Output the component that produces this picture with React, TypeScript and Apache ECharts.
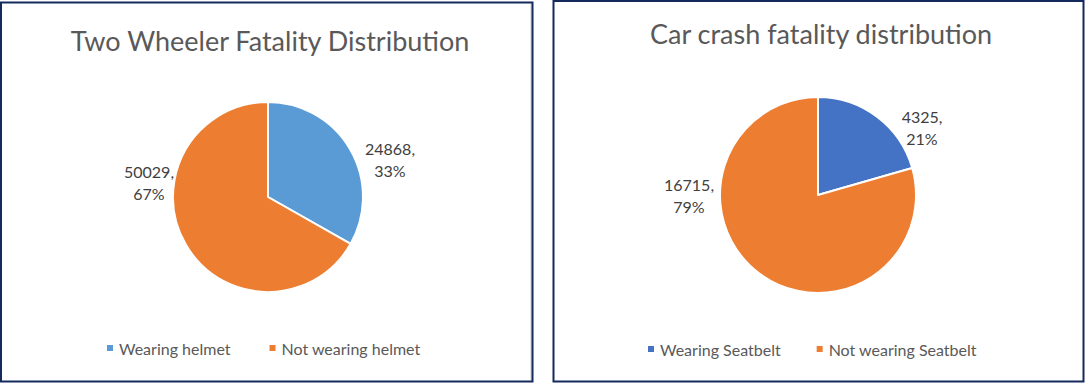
import React, { useEffect, useRef } from "react";
import * as echarts from "echarts";

const twoWheelerTitle = "Two Wheeler Fatality Distribution";
const twoWheelerCategories = ["Wearing helmet", "Not wearing helmet"];
const twoWheelerValues = [24868, 50029];

const carTitle = "Car crash fatality distribution";
const carCategories = ["Wearing Seatbelt", "Not wearing Seatbelt"];
const carValues = [4325, 16715];

const FONT = "Lato, 'Open Sans', sans-serif";

// layout (positions, not data)
const centers: [number, number][] = [
  [268, 197],
  [818, 195],
];
const radii = [95, 98];
// label offsets relative to pie center, per series / slice
const labelOffsets: [number, number][][] = [
  [
    [122, -38],
    [-119, -15],
  ],
  [
    [104, -68],
    [-129, 0],
  ],
];

function pieSeries(idx: number, cats: string[], vals: number[], colors: string[]) {
  return {
    type: "pie",
    center: centers[idx],
    radius: radii[idx],
    startAngle: 90,
    clockwise: true,
    data: cats.map((c, i) => ({ name: c, value: vals[i], itemStyle: { color: colors[i] } })),
    itemStyle: { borderColor: "#ffffff", borderWidth: 2 },
    label: {
      show: true,
      position: "outside",
      fontFamily: FONT,
      fontSize: 16,
      color: "#404040",
      lineHeight: 22,
      align: "center",
      formatter: (p: any) => `${p.value},\n${Math.round(p.percent)}%`,
    },
    labelLine: { show: false },
    emphasis: { disabled: true },
    labelLayout: (p: any) => {
      const off = labelOffsets[idx][p.dataIndex];
      return {
        x: centers[idx][0] + off[0],
        y: centers[idx][1] + off[1],
        align: "center",
        verticalAlign: "middle",
      };
    },
  };
}

export default function App() {
  const ref = useRef<HTMLDivElement>(null);
  useEffect(() => {
    if (!ref.current) return;
    const chart = echarts.init(ref.current, undefined, { renderer: "svg" });
    const titleStyle = { fontFamily: FONT, fontSize: 27, fontWeight: "normal", color: "#595959" };
    const legendText = { fontFamily: FONT, fontSize: 16, color: "#595959" };
    chart.setOption({
      animation: false,
      backgroundColor: "#ffffff",
      title: [
        { text: twoWheelerTitle, left: 265, top: 22, textAlign: "center", textStyle: titleStyle },
        { text: carTitle, left: 816, top: 15, textAlign: "center", textStyle: titleStyle },
      ],
      legend: [
        {
          data: twoWheelerCategories,
          left: 100,
          top: 335,
          width: 420,
          icon: "rect",
          itemWidth: 8,
          itemHeight: 8,
          itemGap: 37,
          selectedMode: false,
          textStyle: legendText,
        },
        {
          data: carCategories,
          left: 641,
          top: 336,
          width: 420,
          icon: "rect",
          itemWidth: 8,
          itemHeight: 8,
          itemGap: 34,
          selectedMode: false,
          textStyle: legendText,
        },
      ],
      graphic: [
        {
          type: "line",
          shape: { x1: 531, y1: 4, x2: 531, y2: 380 },
          style: { stroke: "#c8ccd4", lineWidth: 1 },
          silent: true,
        },
        {
          type: "rect",
          shape: { x: 1, y: 2.5, width: 531.5, height: 379 },
          style: { fill: "none", stroke: "#14295c", lineWidth: 2 },
          silent: true,
        },
        {
          type: "rect",
          shape: { x: 553.5, y: 1, width: 530, height: 380.5 },
          style: { fill: "none", stroke: "#14295c", lineWidth: 2 },
          silent: true,
        },
      ],
      series: [
        pieSeries(0, twoWheelerCategories, twoWheelerValues, ["#5B9BD5", "#ED7D31"]),
        pieSeries(1, carCategories, carValues, ["#4472C4", "#ED7D31"]),
      ],
    });
    return () => chart.dispose();
  }, []);
  return (
    <div
      ref={ref}
      style={{ position: "absolute", left: 0, top: 0, width: 1085, height: 383 }}
    />
  );
}
